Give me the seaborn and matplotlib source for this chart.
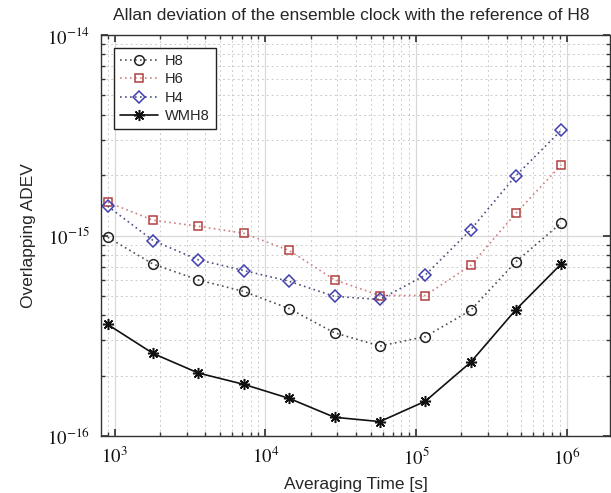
import numpy as np
import pandas as pd
import matplotlib
matplotlib.use("Agg")
import matplotlib.pyplot as plt
import matplotlib.ticker as mticker
import seaborn as sns

tau = [900 * 2 ** n for n in range(11)]
h8 = [0.98, 0.72, 0.60, 0.526, 0.432, 0.327, 0.281, 0.313, 0.423, 0.740, 1.157]
h6 = [1.466, 1.192, 1.112, 1.026, 0.842, 0.601, 0.502, 0.502, 0.709, 1.292, 2.25]
h4 = [1.40, 0.944, 0.756, 0.669, 0.591, 0.497, 0.480, 0.634, 1.067, 1.99, 3.35]
wmh8 = [0.360, 0.258, 0.206, 0.181, 0.154, 0.124, 0.118, 0.149, 0.233, 0.427, 0.722]
scale = 1e-15
xticks = [1e3, 1e4, 1e5, 1e6]
yticks = [1e-16, 1e-15, 1e-14]

title = "Allan deviation of the ensemble clock with the reference of H8"
xlabel = "Averaging Time [s]"
ylabel = "Overlapping ADEV"

sns.set_theme(style="white")
plt.rcParams["font.family"] = ["Liberation Sans", "DejaVu Sans"]
plt.rcParams["mathtext.fontset"] = "stix"

fig = plt.figure(figsize=(6.11, 4.93), dpi=100)
ax = fig.add_axes([101 / 611, 1 - 436 / 493, 509 / 611, 401 / 493])

series = [
    ("H8", h8, dict(color="#505050", mec="#222222", marker="o", ms=7, ls=(0, (1, 2)))),
    ("H6", h6, dict(color="#d08080", mec="#b04040", marker="s", ms=5.5, ls=(0, (1, 2)))),
    ("H4", h4, dict(color="#505080", mec="#4040b0", marker="D", ms=6, ls=(0, (1, 2)))),
    ("WMH8", wmh8, dict(color="#111111", mec="#111111", marker=(8, 2, 0), ms=8, ls="-")),
]
for name, vals, st in series:
    df = pd.DataFrame({"tau": tau, "adev": np.array(vals) * scale})
    sns.lineplot(data=df, x="tau", y="adev", ax=ax, label=name,
                 color=st["color"], marker=st["marker"], markersize=st["ms"],
                 markerfacecolor="none", markeredgecolor=st["mec"],
                 markeredgewidth=1.1, linestyle=st["ls"], linewidth=1.2)

ax.set_xscale("log")
ax.set_yscale("log")
ax.set_xlim(812, 1.94e6)
ax.set_ylim(1e-16, 1e-14)
ax.set_xticks(xticks)
ax.set_yticks(yticks)

fmt = mticker.FuncFormatter(lambda v, p: r"$10^{%d}$" % int(round(np.log10(v))))
ax.xaxis.set_major_formatter(fmt)
ax.yaxis.set_major_formatter(fmt)
ax.xaxis.set_minor_locator(mticker.LogLocator(base=10, subs=np.arange(2, 10)))
ax.yaxis.set_minor_locator(mticker.LogLocator(base=10, subs=np.arange(2, 10)))
ax.xaxis.set_minor_formatter(mticker.NullFormatter())
ax.yaxis.set_minor_formatter(mticker.NullFormatter())

ax.grid(True, which="major", color="#d8d8d8", linestyle="-", linewidth=0.9)
ax.grid(True, which="minor", color="#cccccc", linestyle=(0, (2, 3)), linewidth=0.7)
ax.set_axisbelow(True)
for sp in ax.spines.values():
    sp.set_color("#333333")
    sp.set_linewidth(1.0)
ax.tick_params(which="both", direction="in", top=True, right=True, left=True, bottom=True, colors="#333333")
ax.tick_params(which="major", length=5, labelsize=13.5, labelcolor="#111111")
ax.tick_params(which="minor", length=3)
ax.tick_params(axis="x", pad=8)
ax.tick_params(axis="y", pad=8)

ax.set_title(title, fontsize=12.5, pad=11, x=(351 - 101) / 509)
ax.set_xlabel(xlabel, fontsize=12.5, labelpad=6)
ax.set_ylabel(ylabel, fontsize=12.5, labelpad=8)

leg = ax.legend(loc="upper left", fontsize=10.5, frameon=True, fancybox=False,
                edgecolor="#222222", framealpha=1, borderaxespad=0.9,
                handlelength=2.6, handletextpad=0.5, labelspacing=0.3)
leg.get_frame().set_linewidth(1.0)

fig.savefig("out.png", dpi=100)
